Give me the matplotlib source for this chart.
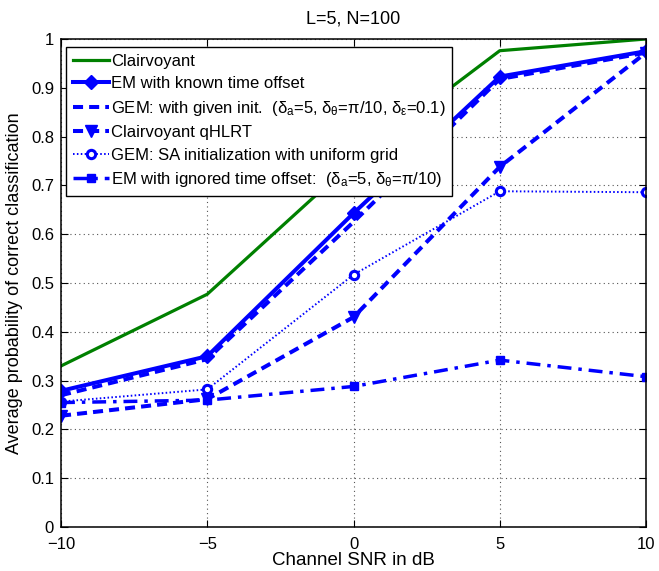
import matplotlib

matplotlib.use("Agg")

import matplotlib.pyplot as plt

plt.rcParams["font.family"] = ["Liberation Sans", "DejaVu Sans"]
plt.rcParams["mathtext.fontset"] = "custom"
plt.rcParams["mathtext.rm"] = "Liberation Sans"
plt.rcParams["mathtext.it"] = "Liberation Sans"

snr_db = [-10, -5, 0, 5, 10]
clairvoyant = [0.33, 0.477, 0.75, 0.976, 1.0]
em_known = [0.279, 0.35, 0.643, 0.923, 0.975]
gem_given = [0.27, 0.344, 0.625, 0.918, 0.972]
qhlrt = [0.228, 0.262, 0.43, 0.738, 0.972]
gem_sa = [0.257, 0.282, 0.517, 0.688, 0.686]
em_ignored = [0.255, 0.26, 0.288, 0.342, 0.308]

GREEN = "#008000"
BLUE = "#0000FF"

W, H = 659, 571
fig = plt.figure(figsize=(W / 100, H / 100), dpi=100)
ax = fig.add_axes([61 / W, 44 / H, 585 / W, 488 / H])

ax.plot(snr_db, clairvoyant, color=GREEN, lw=2.3, label="Clairvoyant")
ax.plot(snr_db, em_known, color=BLUE, lw=2.9, marker="D", ms=7,
        label="EM with known time offset")
ax.plot(snr_db, gem_given, color=BLUE, lw=2.9, ls=(0, (2.5, 1.5)),
        label=r"GEM: with given init.  ($\delta_{\mathrm{a}}$=5, $\delta_{\theta}$=$\pi$/10, $\delta_{\epsilon}$=0.1)")
ax.plot(snr_db, qhlrt, color=BLUE, lw=2.9, ls=(0, (2.5, 1.5)), marker="v", ms=8,
        label="Clairvoyant qHLRT")
ax.plot(snr_db, gem_sa, color=BLUE, lw=1.4, ls=(0, (0.8, 1.2)), marker="o", ms=6,
        mfc="white", mew=2.2, label="GEM: SA initialization with uniform grid")
ax.plot(snr_db, em_ignored, color=BLUE, lw=2.5, ls=(0, (4, 2, 1, 2)), marker="s", ms=6,
        label=r"EM with ignored time offset:  ($\delta_{\mathrm{a}}$=5, $\delta_{\theta}$=$\pi$/10)")

ax.set_xlim(-10, 10)
ax.set_ylim(0, 1)
ax.set_xticks([-10, -5, 0, 5, 10])
ax.set_xticklabels(["\u221210", "\u22125", "0", "5", "10"])
ax.set_yticks([i / 10 for i in range(11)])
ax.set_yticklabels(["0", "0.1", "0.2", "0.3", "0.4", "0.5", "0.6", "0.7", "0.8", "0.9", "1"])
ax.tick_params(direction="in", labelsize=12, length=5, top=True, right=True)
ax.tick_params(axis="x", pad=7)
ax.tick_params(axis="y", pad=5)
ax.grid(True, color="#555555", ls=(0, (1, 3)), lw=0.8)
for s in ax.spines.values():
    s.set_linewidth(1.1)

ax.set_xlabel("Channel SNR in dB", fontsize=13.5, labelpad=0)
ax.set_ylabel("Average probability of correct classification", fontsize=13, labelpad=6)
ax.set_title("L=5, N=100", fontsize=13, pad=11)

leg = ax.legend(loc="upper left", bbox_to_anchor=(66 / W, 1 - 47 / H),
                bbox_transform=fig.transFigure, fontsize=12, handlelength=2.15,
                handletextpad=0.15, borderpad=0.4, labelspacing=0.45,
                fancybox=False, framealpha=1, borderaxespad=0)
leg.get_frame().set_edgecolor("black")
leg.get_frame().set_linewidth(1.0)

fig.savefig("out.png", dpi=100)
